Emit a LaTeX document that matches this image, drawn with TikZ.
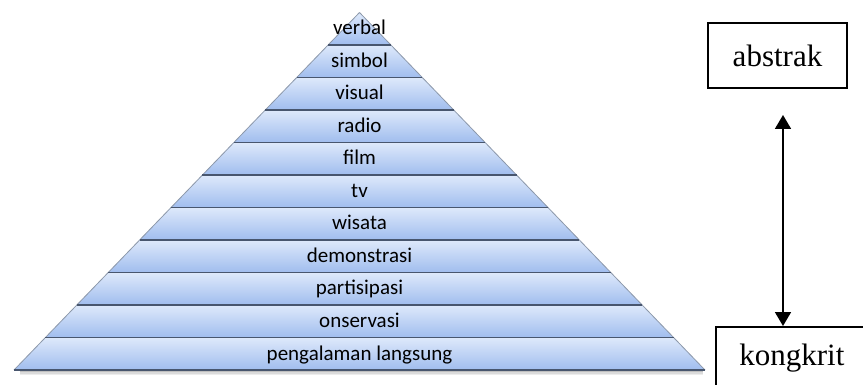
\documentclass[tikz,border=0pt]{standalone}
\usepackage{fontspec}
\newfontfamily\lblfont{Carlito}
\newfontfamily\boxfont{Liberation Serif}
\usetikzlibrary{calc,arrows.meta,positioning}
\definecolor{layertop}{RGB}{222,233,251}
\definecolor{layerbot}{RGB}{160,189,238}
\definecolor{layerline}{RGB}{72,86,110}
\definecolor{layerside}{RGB}{140,152,170}

\tikzset{
  layer/.style={top color=layertop, bottom color=layerbot},
  lbl/.style={font=\lblfont\fontsize{21}{24}\selectfont, text height=14pt, text depth=4pt, inner sep=0pt},
  endbox/.style={draw, line width=1.8pt, font=\boxfont\fontsize{31}{36}\selectfont, inner sep=0pt},
}

\begin{document}
\begin{tikzpicture}[x=1pt, y=-1pt]
\useasboundingbox (0,0) rectangle (863,385);

% Pyramid corners
\coordinate (apex) at (359.5,12.5);
\coordinate (bl) at (14,370);
\coordinate (br) at (705,370);

% Soft shadow under the base
\foreach \d/\o in {1.5/0.25,3/0.14,4.5/0.07} {
    \draw[black, opacity=\o, line width=1.6pt] ($(bl)+(6,\d)$) -- ($(br)+(-2,\d)$);
}

% Layers, from the base up
\foreach \k/\txt in {0/pengalaman langsung,1/onservasi,2/partisipasi,3/demonstrasi,4/wisata,5/tv,6/film,7/radio,8/visual,9/simbol,10/verbal} {
    \pgfmathsetmacro\fb{(11-\k)/11}
    \pgfmathsetmacro\ft{(10-\k)/11}
    \coordinate (lb) at ($(apex)!\fb!(bl)$);
    \coordinate (rb) at ($(apex)!\fb!(br)$);
    \coordinate (lt) at ($(apex)!\ft!(bl)$);
    \coordinate (rt) at ($(apex)!\ft!(br)$);
    \shade[layer] (lb) -- (rb) -- (rt) -- (lt) -- cycle;
    \draw[layerside, line width=0.8pt] (lb) -- (lt) (rb) -- (rt);
    \draw[layerline, line width=1.6pt] (lb) -- (rb);
    \node[lbl] (l\k) at ($(lb)!.5!(rb)+(0,-15)$) {\txt};
}

% Abstract / concrete scale
\node[endbox, minimum width=139pt, minimum height=65pt] (abstrak) at (777.5,55.5) {abstrak};
\node[endbox, minimum width=152pt, minimum height=62pt, anchor=north west] (kongkrit) at (715,326) {kongkrit};

\coordinate (arrtop) at (783,115);
\draw[line width=1.8pt, {Triangle[width=16pt,length=14pt]}-{Triangle[width=16pt,length=14pt]}] (arrtop) -- (arrtop |- kongkrit.north);

\end{tikzpicture}
\end{document}
